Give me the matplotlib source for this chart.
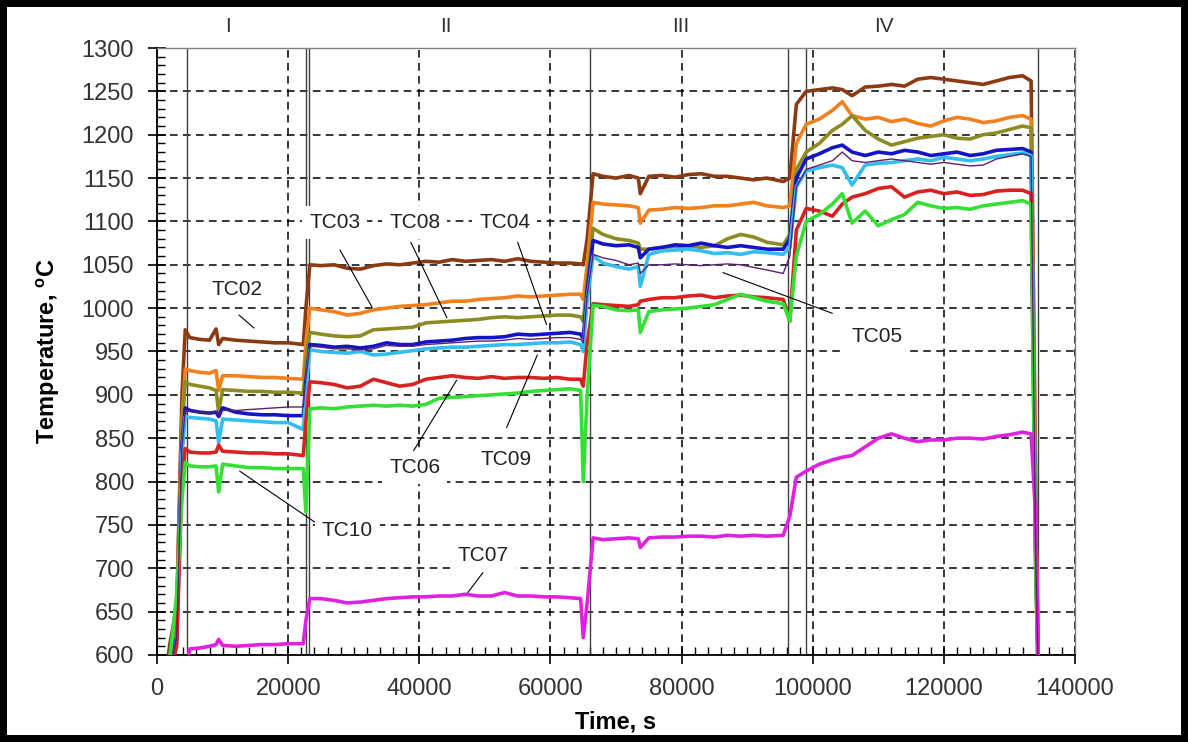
import matplotlib.pyplot as plt
from matplotlib.ticker import MultipleLocator

# time axis, s (shared by every thermocouple)
time_s = [
    1000, 2000, 3000, 3800, 4300, 5000, 6500, 8000, 9000, 9400, 10000, 12000, 14000, 16000, 18000, 20000, 22300, 22700, 23300,
    25000, 27000, 29000, 31000, 33000, 35000, 37000, 39000, 41000, 43000, 45000, 47000, 49000, 51000, 53000, 55000, 57000, 59000, 61000, 63000, 64600, 65000, 65600,
    66500, 68000, 70000, 72000, 73400, 73700, 75000, 77000, 79000, 81000, 83000, 85000, 87000, 89000, 91000, 93000, 95500, 96500, 97500,
    99000, 101000, 103000, 104500, 106000, 108000, 110000, 112000, 114000, 116000, 118000, 120000, 122000, 124000, 126000, 128000, 130000, 132000, 133300, 134000, 134500,
]

tc02 = [560, 615, 655, 900, 975, 966, 964, 963, 976, 958, 965, 963, 962, 961, 960, 960, 958, 1000, 1050,
        1049, 1050, 1046, 1045, 1049, 1051, 1050, 1052, 1054, 1053, 1056, 1054, 1055, 1056, 1054, 1057, 1054, 1053, 1052, 1052, 1051, 1050, 1080,
        1155, 1152, 1150, 1153, 1150, 1132, 1152, 1153, 1151, 1154, 1155, 1152, 1152, 1150, 1148, 1150, 1146, 1150, 1235,
        1250, 1252, 1254, 1252, 1245, 1255, 1256, 1258, 1256, 1264, 1266, 1264, 1262, 1260, 1258, 1262, 1266, 1268, 1262, 800, 550]
tc03 = [560, 600, 645, 870, 930, 928, 926, 925, 928, 905, 922, 922, 921, 920, 920, 919, 918, 960, 1000,
        998, 996, 992, 994, 998, 1000, 1002, 1003, 1004, 1006, 1008, 1008, 1010, 1011, 1012, 1014, 1013, 1014, 1015, 1016, 1016, 1010, 1050,
        1122, 1120, 1119, 1118, 1116, 1098, 1113, 1114, 1116, 1115, 1116, 1118, 1118, 1120, 1122, 1118, 1116, 1118, 1190,
        1212, 1218, 1228, 1238, 1222, 1218, 1220, 1215, 1218, 1213, 1210, 1216, 1220, 1218, 1214, 1216, 1220, 1222, 1218, 760, 540]
tc08 = [555, 590, 630, 860, 915, 912, 910, 908, 905, 880, 906, 905, 904, 904, 903, 903, 902, 940, 972,
        970, 968, 967, 968, 975, 976, 977, 978, 983, 984, 985, 986, 987, 989, 990, 989, 990, 991, 992, 992, 990, 985, 1030,
        1092, 1085, 1080, 1078, 1075, 1068, 1068, 1070, 1071, 1072, 1070, 1072, 1080, 1085, 1082, 1076, 1073, 1085, 1160,
        1180, 1190, 1205, 1212, 1222, 1205, 1195, 1188, 1192, 1196, 1198, 1200, 1196, 1195, 1200, 1202, 1206, 1210, 1208, 740, 540]
tc04 = [550, 585, 620, 840, 885, 882, 880, 879, 880, 875, 885, 880, 878, 877, 877, 876, 876, 915, 958,
        957, 955, 956, 954, 956, 960, 958, 958, 961, 962, 963, 965, 966, 966, 967, 970, 969, 970, 971, 972, 970, 965, 1020,
        1078, 1074, 1072, 1073, 1070, 1058, 1068, 1070, 1073, 1072, 1075, 1072, 1070, 1072, 1070, 1068, 1068, 1080, 1150,
        1172, 1178, 1185, 1188, 1180, 1176, 1180, 1178, 1182, 1180, 1176, 1178, 1180, 1176, 1178, 1182, 1183, 1184, 1180, 720, 540]
tc09 = [550, 580, 615, 830, 875, 874, 873, 872, 870, 845, 872, 871, 870, 869, 868, 868, 860, 905, 952,
        950, 949, 948, 950, 946, 947, 949, 951, 953, 954, 955, 955, 956, 957, 958, 958, 959, 960, 960, 961, 958, 950, 1010,
        1060, 1052, 1048, 1045, 1048, 1025, 1062, 1066, 1067, 1068, 1066, 1063, 1064, 1062, 1065, 1064, 1062, 1070, 1140,
        1158, 1162, 1165, 1162, 1142, 1165, 1167, 1168, 1170, 1172, 1170, 1174, 1172, 1170, 1172, 1175, 1177, 1179, 1176, 720, 540]
tc05 = [550, 585, 620, 840, 882, 881, 880, 880, 881, 878, 882, 882, 883, 884, 885, 886, 886, 920, 956,
        955, 953, 953, 952, 953, 957, 956, 956, 958, 959, 960, 961, 962, 962, 963, 965, 964, 965, 966, 966, 964, 960, 1015,
        1062, 1058, 1055, 1050, 1052, 1040, 1050, 1050, 1051, 1050, 1049, 1050, 1051, 1050, 1047, 1044, 1040, 1060, 1140,
        1160, 1165, 1170, 1180, 1170, 1168, 1170, 1172, 1170, 1168, 1166, 1168, 1166, 1164, 1165, 1172, 1175, 1178, 1175, 720, 540]
tc06 = [550, 580, 610, 800, 838, 834, 833, 833, 834, 842, 835, 834, 833, 833, 832, 832, 830, 870, 915,
        914, 912, 908, 910, 918, 914, 910, 912, 918, 920, 922, 920, 919, 921, 919, 920, 920, 919, 920, 918, 918, 910, 960,
        1005, 1004, 1003, 1002, 1004, 1008, 1010, 1012, 1012, 1014, 1015, 1012, 1014, 1015, 1013, 1012, 1010, 985, 1090,
        1115, 1112, 1106, 1120, 1128, 1132, 1138, 1140, 1128, 1134, 1136, 1132, 1134, 1130, 1131, 1135, 1136, 1136, 1132, 700, 540]
tc10 = [545, 600, 670, 780, 822, 818, 817, 817, 818, 788, 820, 818, 816, 816, 815, 815, 815, 765, 884,
        885, 884, 886, 887, 888, 887, 888, 887, 889, 896, 897, 898, 899, 900, 901, 902, 904, 905, 906, 907, 905, 800, 900,
        1003, 1002, 998, 997, 998, 972, 996, 998, 999, 1000, 1002, 1004, 1010, 1016, 1012, 1008, 1005, 985, 1060,
        1100, 1108, 1120, 1132, 1098, 1112, 1095, 1102, 1108, 1122, 1118, 1115, 1116, 1114, 1118, 1120, 1122, 1124, 1120, 700, 540]
tc07 = [500, 520, 540, 560, 580, 607, 608, 610, 612, 618, 611, 610, 611, 612, 612, 613, 613, 640, 665,
        665, 663, 660, 661, 663, 665, 666, 667, 667, 668, 668, 670, 668, 668, 672, 668, 668, 667, 667, 666, 665, 620, 660,
        735, 733, 734, 735, 734, 724, 735, 736, 736, 737, 737, 736, 738, 737, 738, 737, 738, 760, 805,
        812, 820, 825, 828, 830, 840, 850, 855, 850, 846, 848, 848, 850, 850, 849, 852, 854, 857, 855, 760, 540]

series_names = ['TC02', 'TC03', 'TC08', 'TC04', 'TC09', 'TC06', 'TC10', 'TC07', 'TC05']
series_data = [tc02, tc03, tc08, tc04, tc09, tc06, tc10, tc07, tc05]
series_colors = ['#8B3A12', '#F2801E', '#8C8C22', '#1414C4', '#34BEF0', '#D82222', '#34E034', '#E022E0', '#5E2070']

# stage boundaries and stage names
stage_bounds = [4600, 22700, 23200, 66000, 96300, 99000, 134400]
stage_names = ['I', 'II', 'III', 'IV']
stage_label_x = [10800, 44000, 79900, 110800]

# labels: name, text position, leader line start, leader line end
labels = [
    ('TC02', (12200, 1021), (12500, 992), (14800, 977)),
    ('TC03', (27100, 1099), (27900, 1067), (32800, 1001)),
    ('TC08', (39300, 1099), (38700, 1076), (44200, 989)),
    ('TC04', (53000, 1099), (55000, 1076), (59400, 981)),
    ('TC06', (39300, 816), (39000, 834), (45700, 917)),
    ('TC09', (53300, 826), (53300, 862), (58000, 946)),
    ('TC10', (29000, 744), (24100, 753), (12600, 812)),
    ('TC07', (49700, 715), (49700, 695), (47400, 672)),
    ('TC05', (109800, 967), (103000, 994), (86300, 1041)),
]

plt.rcParams['font.family'] = ['Liberation Sans', 'DejaVu Sans']

fig = plt.figure(figsize=(11.88, 7.42), dpi=100, edgecolor='black', linewidth=10)
ax = fig.add_axes([0.1322, 0.1173, 0.7727, 0.8180])

for x in stage_bounds:
    ax.axvline(x, color='#404040', lw=1.0, zorder=2)

for name, vals, col in zip(series_names, series_data, series_colors):
    lw = 1.0 if name == 'TC05' else 2.6
    ax.plot(time_s, vals, color=col, lw=lw, zorder=3)

for name, txt, p0, p1 in labels:
    ax.annotate('', xy=p1, xytext=p0,
                arrowprops=dict(arrowstyle='-', lw=0.8, color='black', shrinkA=0, shrinkB=0),
                zorder=4)
    ax.text(txt[0], txt[1], name, fontsize=15, color='#222222', ha='center', va='center',
            bbox=dict(facecolor='white', edgecolor='none', pad=5), zorder=5)

for name, x in zip(stage_names, stage_label_x):
    ax.text(x, 1.035, name, transform=ax.get_xaxis_transform(), fontsize=15,
            color='#333333', ha='center', va='center')

ax.set_xlim(0, 140000)
ax.set_ylim(600, 1300)
ax.xaxis.set_major_locator(MultipleLocator(20000))
ax.xaxis.set_minor_locator(MultipleLocator(2000))
ax.yaxis.set_major_locator(MultipleLocator(50))
ax.yaxis.set_minor_locator(MultipleLocator(10))

ax.grid(True, which='major', color='black', linestyle=(0, (5, 3.5)), linewidth=1.1, zorder=1)
ax.set_axisbelow(True)

ax.tick_params(which='major', direction='inout', length=13, width=1.2, color='black',
               labelsize=17, labelcolor='#333333', pad=10)
ax.tick_params(which='minor', direction='in', length=6, width=1.0, color='black')

for side in ['top', 'right']:
    ax.spines[side].set_color('#808080')
    ax.spines[side].set_linewidth(1.0)
for side in ['left', 'bottom']:
    ax.spines[side].set_color('black')
    ax.spines[side].set_linewidth(1.3)

ax.set_xlabel('Time, s', fontsize=17, fontweight='bold', labelpad=8)
ax.set_ylabel('Temperature, $^{\\mathregular{o}}$C', fontsize=17, fontweight='bold', labelpad=14)

fig.savefig('out.png', dpi=100)
